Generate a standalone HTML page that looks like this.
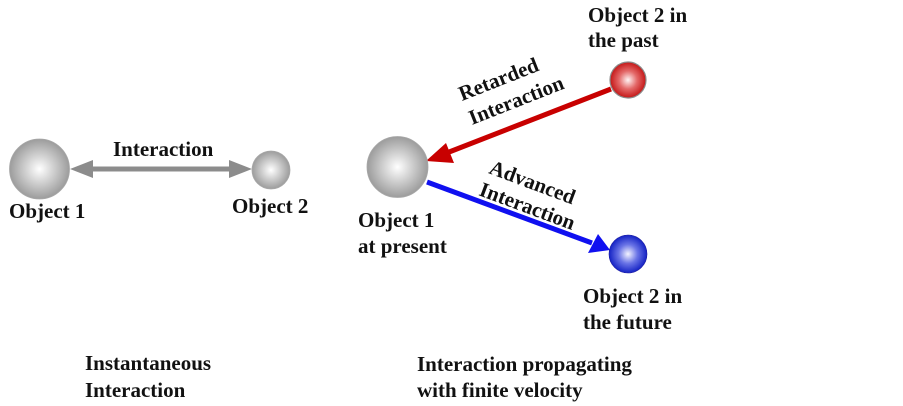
<!DOCTYPE html>
<html><head><meta charset="utf-8"><style>
html,body{margin:0;padding:0;background:#fff;}
svg{display:block;}
text{font-family:"Liberation Serif",serif;font-weight:bold;font-size:21px;fill:#111;}
</style></head><body>
<svg width="903" height="406" viewBox="0 0 903 406" xmlns="http://www.w3.org/2000/svg">
<defs>
<radialGradient id="g" cx="50%" cy="50%" r="50%">
<stop offset="0" stop-color="#ffffff"/>
<stop offset="0.45" stop-color="#d2d2d2"/>
<stop offset="1" stop-color="#9c9c9c"/>
</radialGradient>
<radialGradient id="r" cx="50%" cy="50%" r="50%">
<stop offset="0" stop-color="#fff4f4"/>
<stop offset="0.5" stop-color="#e46a6a"/>
<stop offset="1" stop-color="#c41616"/>
</radialGradient>
<radialGradient id="b" cx="50%" cy="50%" r="50%">
<stop offset="0" stop-color="#f4f4ff"/>
<stop offset="0.5" stop-color="#6a74e6"/>
<stop offset="1" stop-color="#1422c4"/>
</radialGradient>
</defs>

<!-- Left: instantaneous -->
<line x1="88" y1="169" x2="232" y2="169" stroke="#8c8c8c" stroke-width="5"/>
<polygon points="70,169 93,160 93,178" fill="#8c8c8c"/>
<polygon points="252,169 229,160 229,178" fill="#8c8c8c"/>
<circle cx="39.5" cy="169" r="30" fill="url(#g)" stroke="#a8a8a8" stroke-width="0.8"/>
<circle cx="271" cy="170" r="19" fill="url(#g)" stroke="#a8a8a8" stroke-width="0.8"/>
<text x="113" y="156">Interaction</text>
<text x="9" y="218">Object 1</text>
<text x="232" y="213">Object 2</text>
<text x="85" y="370">Instantaneous</text>
<text x="85" y="397">Interaction</text>

<!-- Right: finite velocity -->
<line x1="611" y1="89" x2="444" y2="154" stroke="#c80000" stroke-width="5"/>
<polygon points="426,161 446,143 454,163" fill="#c80000"/>
<line x1="427" y1="182" x2="592" y2="243" stroke="#1010f0" stroke-width="5"/>
<polygon points="610,250 588,253 598,234" fill="#1010f0"/>
<circle cx="397.5" cy="167" r="30.5" fill="url(#g)" stroke="#a8a8a8" stroke-width="0.8"/>
<circle cx="628" cy="80" r="18" fill="url(#r)" stroke="#8a8a8a" stroke-width="1.2"/>
<circle cx="628" cy="254" r="19" fill="url(#b)" stroke="#1a1aa0" stroke-width="0.6"/>

<text x="588" y="22">Object 2 in</text>
<text x="588" y="47">the past</text>
<text x="358" y="227">Object 1</text>
<text x="358" y="253">at present</text>
<text x="583" y="303">Object 2 in</text>
<text x="583" y="329">the future</text>

<text transform="translate(462,101) rotate(-21.5)">Retarded</text>
<text transform="translate(472,125) rotate(-21.5)">Interaction</text>
<text transform="translate(488,173) rotate(20.5)">Advanced</text>
<text transform="translate(478,195) rotate(20.5)">Interaction</text>

<text x="417" y="371">Interaction propagating</text>
<text x="417" y="397">with finite velocity</text>
</svg>
</body></html>
